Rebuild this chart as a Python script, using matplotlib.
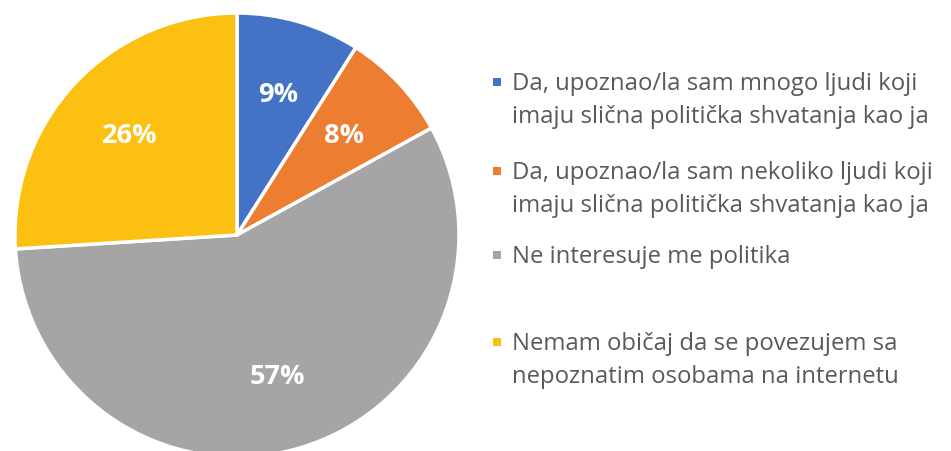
import matplotlib
matplotlib.use("Agg")
import matplotlib.pyplot as plt
from matplotlib.patches import Rectangle

categories = [
    "Da, upoznao/la sam mnogo ljudi koji\nimaju slična politička shvatanja kao ja",
    "Da, upoznao/la sam nekoliko ljudi koji\nimaju slična politička shvatanja kao ja",
    "Ne interesuje me politika",
    "Nemam običaj da se povezujem sa\nnepoznatim osobama na internetu",
]
values = [9, 8, 57, 26]
colors = ["#4472C4", "#ED7D31", "#A5A5A5", "#FBC012"]

W, H = 951, 452
fig = plt.figure(figsize=(W / 100, H / 100), dpi=100)
fig.patch.set_facecolor("white")

cx, cy, r = 237, 236, 222
ax = fig.add_axes([(cx - r) / W, (H - cy - r) / H, 2 * r / W, 2 * r / H])
wedges, texts, autotexts = ax.pie(
    values, colors=colors, startangle=90, counterclock=False,
    autopct=lambda p: f"{p:.0f}%", pctdistance=0.66,
    wedgeprops=dict(edgecolor="white", linewidth=2.5),
    textprops=dict(color="white", fontsize=19.5, fontweight="bold", family="Open Sans"),
)
ax.set_xlim(-1, 1)
ax.set_ylim(-1, 1)
ax.set_aspect("equal")
ax.axis("off")

# manual legend
baselines = [90, 179, 263, 350]  # pixel y of first text baseline
line_gap = 33
for cat, col, y in zip(categories, colors, baselines):
    sq = 8
    yc = y - 7.5
    fig.patches.append(Rectangle(((497 - sq / 2) / W, (H - yc - sq / 2) / H), sq / W, sq / H,
                                 transform=fig.transFigure, facecolor=col, edgecolor="none"))
    for i, line in enumerate(cat.split("\n")):
        fig.text(512 / W, (H - y - i * line_gap) / H, line, ha="left", va="baseline",
                 fontsize=17.2, family="Open Sans", color="#595959")

fig.savefig("out.png", dpi=100)
